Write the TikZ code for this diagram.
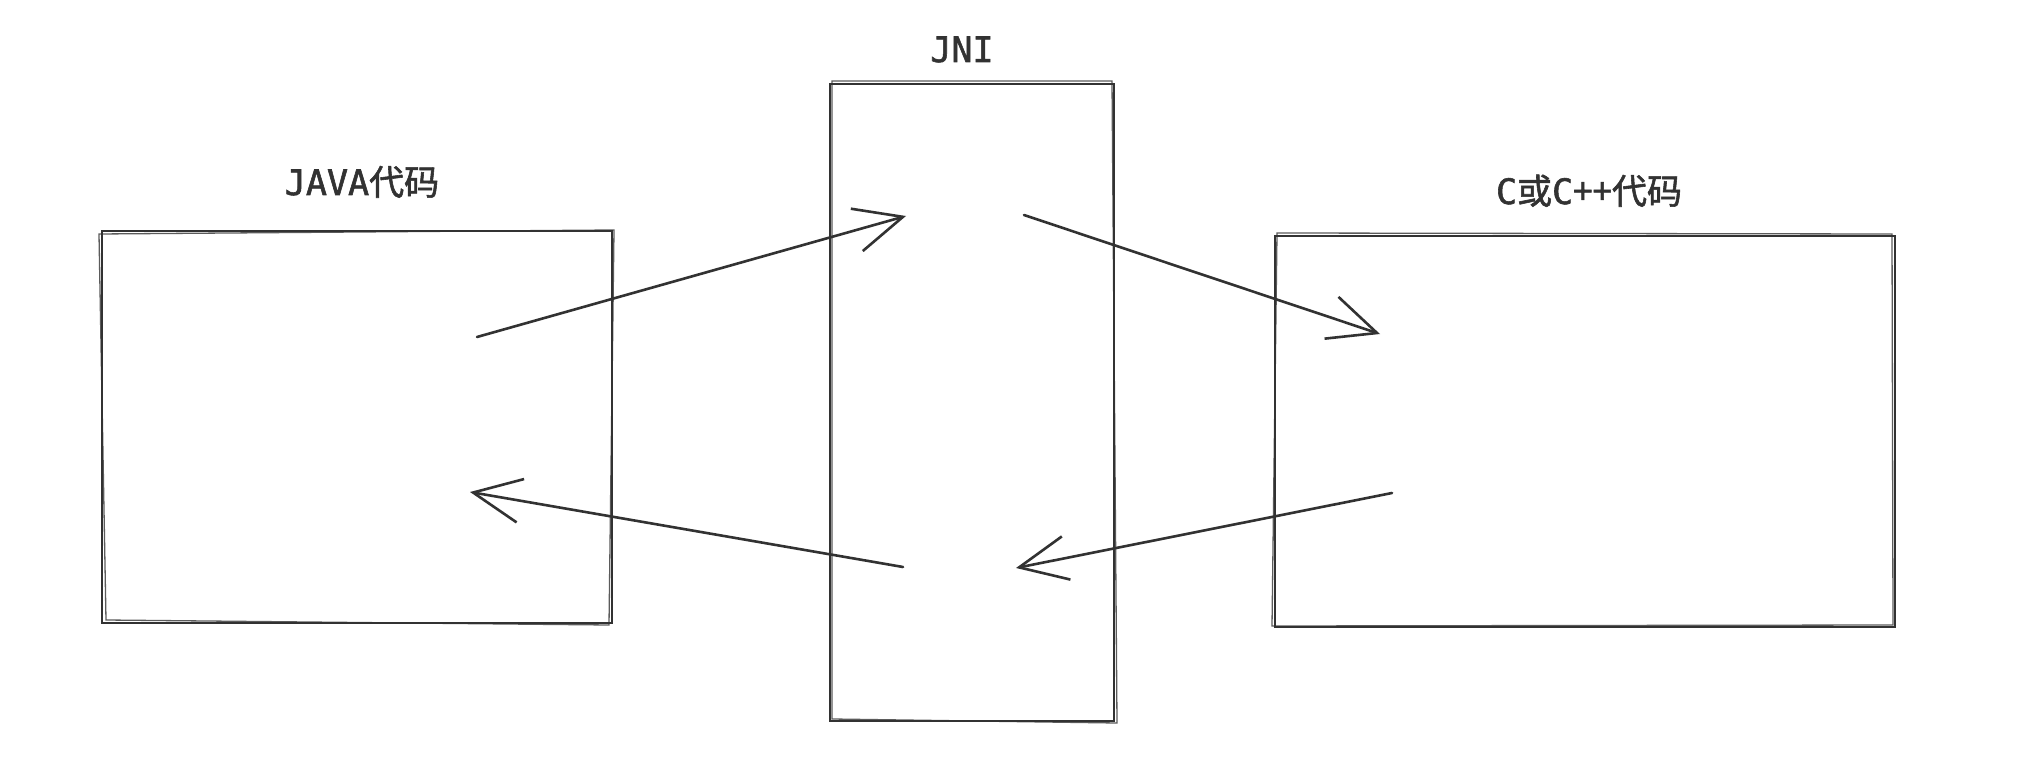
\documentclass[tikz,border=0pt]{standalone}
\usepackage{fontspec}
\newfontfamily\monofnt[FakeBold=1.6]{DejaVu Sans Mono}
\newfontfamily\cjkfnt[FakeBold=1.6]{Noto Sans CJK SC}
\usetikzlibrary{arrows.meta}
\definecolor{ink}{RGB}{50,50,50}
\tikzset{
  boxshape/.style={draw=ink, line width=2.6pt, rectangle, inner sep=0pt, outer sep=0pt},
  sketch/.style={draw=ink, line width=1.3pt, opacity=0.8},
  lbl/.style={text=ink, font=\fontsize{35}{40}\selectfont, anchor=base, inner sep=0pt},
  flow/.style={draw=ink, line width=2.6pt, line cap=round,
    -{Straight Barb[length=48pt, width=44pt, line width=2.6pt]}},
}
\begin{document}
\begin{tikzpicture}[x=1pt, y=-1pt]
\useasboundingbox[fill=white] (0,0) rectangle (2030,762);

% boxes
\node[boxshape, minimum width=510pt, minimum height=392pt] (java) at (357,427) {};
\node[boxshape, minimum width=284pt, minimum height=637pt] (jni) at (972,402.5) {};
\node[boxshape, minimum width=620pt, minimum height=391pt] (cpp) at (1585,431.5) {};

% sketchy second strokes
\draw[sketch] ([shift={(-3,3)}]java.north west) -- ([shift={(2,-1)}]java.north east) -- ([shift={(-3,2)}]java.south east) -- ([shift={(4,-3)}]java.south west) -- cycle;
\draw[sketch] ([shift={(2,-3)}]jni.north west) -- ([shift={(-2,-3)}]jni.north east) -- ([shift={(3,2)}]jni.south east) -- ([shift={(2,-2)}]jni.south west) -- cycle;
\draw[sketch] ([shift={(2,-3)}]cpp.north west) -- ([shift={(-3,-2)}]cpp.north east) -- ([shift={(-2,-2)}]cpp.south east) -- ([shift={(-3,-1)}]cpp.south west) -- cycle;

% labels
\node[lbl] (javalbl) at (362,195) {{\monofnt JAVA}{\cjkfnt 代码}};
\node[lbl] (jnilbl) at (962,62) {{\monofnt JNI}};
\node[lbl] (cpplbl) at (1589,204) {{\monofnt C}{\cjkfnt 或}{\monofnt C}{\cjkfnt ++代码}};

% arrow end points
\coordinate (a1s) at (477,337);
\coordinate (a1e) at (906,216);
\coordinate (a2s) at (1024,215);
\coordinate (a2e) at (1380,334);
\coordinate (a3s) at (1392,493);
\coordinate (a3e) at (1016,568);
\coordinate (a4s) at (903,567);
\coordinate (a4e) at (470,492);

\draw[flow] (a1s) -- (a1e);
\draw[flow] (a2s) -- (a2e);
\draw[flow] (a3s) -- (a3e);
\draw[flow] (a4s) -- (a4e);
\end{tikzpicture}
\end{document}
